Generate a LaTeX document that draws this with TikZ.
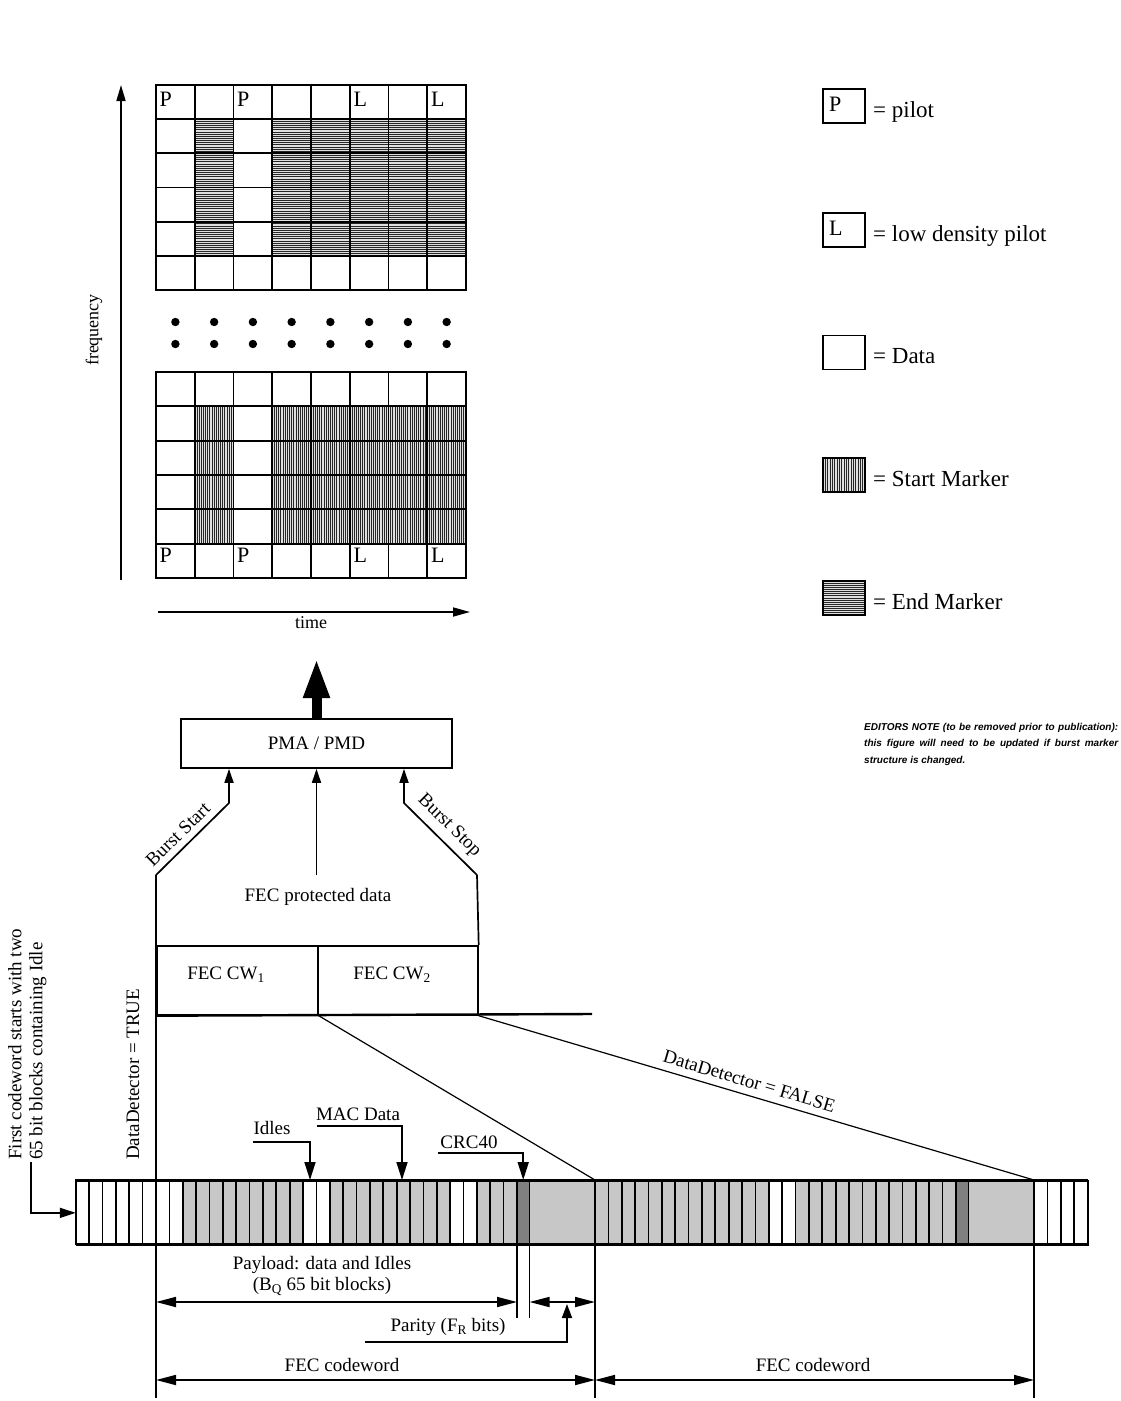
\documentclass[tikz,border=0pt]{standalone}
\usepackage{fontspec}
\setmainfont{Liberation Serif}
\newfontfamily\notefont{Liberation Sans}
\usetikzlibrary{arrows.meta}
\newcommand\startmk[4]{%
  \fill[gray!25] ({#1},{#2}) rectangle ++(#3,#4);
  \foreach \k in {1,...,17} \draw[line width=0.8pt,black!85] ({#1+\k*#3/18},{#2}) -- ++(0,#4);}
\newcommand\stopmk[4]{%
  \fill[gray!25] ({#1},{#2}) rectangle ++(#3,#4);
  \foreach \k in {1,...,15} \draw[line width=0.8pt,black!85] ({#1},{#2+\k*#4/16}) -- ++(#3,0);}
\begin{document}
\begin{tikzpicture}[x=1pt,y=-1pt,
  thickline/.style={line width=1.7pt},
  gline/.style={line width=1.8pt,line cap=rect},
  lab/.style={font=\fontsize{19}{21}\selectfont, inner sep=0pt},
  axlab/.style={font=\fontsize{18}{20}\selectfont, inner sep=0pt},
  cellletter/.style={font=\fontsize{22}{22}\selectfont, inner sep=0pt, anchor=north west},
  leg/.style={font=\fontsize{23}{23}\selectfont, inner sep=0pt, anchor=base west},
  legbox/.style={draw, line width=1.6pt, minimum width=42pt, minimum height=34pt, inner sep=0pt},
  smallarrow/.style={thickline,-{Triangle[length=14pt,width=9pt]}},
  ptr/.style={thickline,-{Triangle[length=18pt,width=11pt]}},
  darr/.style={thickline,{Triangle[length=20pt,width=10pt]}-{Triangle[length=20pt,width=10pt]}},
  hatch/.style={fill=black!22},
  crcfill/.style={fill=black!50},
  scell/.style={thickline}]
\fill[white] (0,0) rectangle (1120,1401);
\useasboundingbox (0,0) rectangle (1120,1401);

% ---------- top grid (end markers) ----------
\foreach \c in {1,3,4,5,6,7} \foreach \r in {1,...,4}
  {\stopmk{156+\c*38.75}{85+\r*34.17}{38.75}{34.17}}
\foreach \i in {0,...,8} \draw[gline] ({156+\i*38.75},85) -- ({156+\i*38.75},290);
\foreach \j in {0,...,6} \draw[gline] (156,{85+\j*34.17}) -- (466,{85+\j*34.17});
\node[cellletter] (tP1) at (159.5,91.5) {P};
\node[cellletter] (tP2) at (237,91.5) {P};
\node[cellletter] (tL1) at (353.5,91.5) {L};
\node[cellletter] (tL2) at (431,91.5) {L};

% ---------- dots ----------
\foreach \c in {0,...,7} {
  \fill ({175.4+\c*38.75},322) circle (4.2);
  \fill ({175.4+\c*38.75},344) circle (4.2);}

% ---------- bottom grid (start markers) ----------
\foreach \c in {1,3,4,5,6,7} \foreach \r in {1,...,4}
  {\startmk{156+\c*38.75}{372+\r*34.33}{38.75}{34.33}}
\foreach \i in {0,...,8} \draw[gline] ({156+\i*38.75},372) -- ({156+\i*38.75},578);
\foreach \j in {0,...,6} \draw[gline] (156,{372+\j*34.33}) -- (466,{372+\j*34.33});
\node[cellletter] (bP1) at (159.5,548) {P};
\node[cellletter] (bP2) at (237,548) {P};
\node[cellletter] (bL1) at (353.5,548) {L};
\node[cellletter] (bL2) at (431,548) {L};

% ---------- axes ----------
\coordinate (fb) at (121,580); \coordinate (ft) at (121,85);
\draw[thickline,-{Triangle[length=16pt,width=9pt]}] (fb) -- (ft);
\node[axlab,rotate=90] (freq) at (94,330) {frequency};
\coordinate (tl) at (158,612); \coordinate (tr) at (470,612);
\draw[thickline,-{Triangle[length=17pt,width=9pt]}] (tl) -- (tr);
\node[axlab,anchor=north] (time) at (311,616) {time};

% ---------- legend ----------
\node[legbox] (lgP) at (844,106) {};
\node[cellletter] (lgPt) at (829,97) {P};
\node[leg] (lgPl) at (873,117) {= pilot};
\node[legbox] (lgL) at (844,230) {};
\node[cellletter] (lgLt) at (829,221) {L};
\node[leg] (lgLl) at (873,241) {= low density pilot};
\node[legbox] (lgD) at (844,352.5) {};
\node[leg] (lgDl) at (873,363) {= Data};
\startmk{823}{458}{42}{34}
\node[legbox] (lgS) at (844,475) {};
\node[leg] (lgSl) at (873,486) {= Start Marker};
\stopmk{823}{581}{42}{34}
\node[legbox] (lgE) at (844,598) {};
\node[leg] (lgEl) at (873,609) {= End Marker};

% ---------- PMA / PMD ----------
\node[draw, thickline, minimum width=271pt, minimum height=49pt, lab] (pma) at (316.5,743.5) {PMA / PMD};
\coordinate (up) at (316.5,658);
\draw[line width=10pt,-{Triangle[length=40pt,width=24pt]}] (pma.north) -- (up);

\coordinate (bsa) at (156,875); \coordinate (bsb) at (229,803);
\draw[smallarrow] (bsa) -- (bsb) -- (bsb |- pma.south);
\path (bsa) -- node[lab, sloped, above=7pt, pos=0.43] (bstart) {Burst Start} (bsb);
\coordinate (bpa) at (477,875); \coordinate (bpb) at (404,803);
\draw[smallarrow] (bpa) -- (bpb) -- (bpb |- pma.south);
\path (bpb) -- node[lab, sloped, above=7pt, pos=0.47] (bstop) {Burst Stop} (bpa);
\coordinate (mid) at (316.5,875);
\draw[smallarrow] (mid) -- (mid |- pma.south);
\node[lab] (fpd) at (318,897) {FEC protected data};

% ---------- FEC codewords box ----------
\node[draw, thickline, minimum width=161pt, minimum height=69pt, inner sep=0pt, anchor=north west] (cw1) at (156,945) {};
\node[draw, thickline, minimum width=160pt, minimum height=69pt, inner sep=0pt, anchor=north west] (cw2) at (317,945) {};
\node[lab] (cw1t) at (226,975) {FEC CW\textsubscript{1}};
\node[lab] (cw2t) at (392,975) {FEC CW\textsubscript{2}};
\coordinate (ext) at (592,1014);
\draw[line width=2.4pt] (cw1.south west) -- (ext);
\coordinate (lvb) at (156,1398);
\draw[thickline] (bsa) -- (lvb);
\draw[thickline] (bpa) -- (cw2.north east);

% ---------- strip ----------
\def\w{13.37}
\fill[hatch] ({156+2*\w},1180) rectangle ({156+11*\w},1244);
\fill[hatch] ({156+13*\w},1180) rectangle ({156+22*\w},1244);
\fill[hatch] ({156+24*\w},1180) rectangle ({156+27*\w},1244);
\fill[crcfill] ({156+27*\w},1180) rectangle (529.5,1244);
\fill[hatch] (529.5,1180) rectangle (595,1244);
\fill[hatch] (595,1180) rectangle ({595+13*\w},1244);
\fill[hatch] ({595+15*\w},1180) rectangle ({595+27*\w},1244);
\fill[crcfill] ({595+27*\w},1180) rectangle (968.5,1244);
\fill[hatch] (968.5,1180) rectangle (1034,1244);
\foreach \k in {0,...,5} \draw[scell] ({75.78+\k*\w},1180) rectangle ++(\w,64);
\foreach \k in {0,...,26} \draw[scell] ({156+\k*\w},1180) rectangle ++(\w,64);
\draw[scell] ({156+27*\w},1180) rectangle (529.5,1244);
\draw[scell] (529.5,1180) rectangle (595,1244);
\foreach \k in {0,...,26} \draw[scell] ({595+\k*\w},1180) rectangle ++(\w,64);
\draw[scell] ({595+27*\w},1180) rectangle (968.5,1244);
\draw[scell] (968.5,1180) rectangle (1034,1244);
\foreach \k in {0,...,3} \draw[scell] ({1034+\k*\w},1180) rectangle ++(\w,64);
\node[draw, thickline, minimum width=1011.7pt, minimum height=64pt, inner sep=0pt, anchor=north west] (strip) at (75.78,1180) {};

% ---------- expansion lines ----------
\coordinate (cw1end) at (595,1180);
\coordinate (cw2end) at (1034,1180);
\draw[line width=1.2pt] (cw1.south east) -- (cw1end);
\draw[line width=1.2pt] (cw2.south east) -- node[lab, sloped, above=7pt, pos=0.48] (ddf) {DataDetector = FALSE} (cw2end);

% ---------- left labels ----------
\node[lab, rotate=90, anchor=north west, align=left] (first) at (8,1160) {First codeword starts with two\\65 bit blocks containing Idle};
\coordinate (fa) at (31,1162);
\draw[thickline,-{Triangle[length=16pt,width=10pt]}] (fa) -- (fa |- strip.west) -- (strip.west);
\node[lab, rotate=90, anchor=west] (ddt) at (133,1160) {DataDetector = TRUE};

% ---------- pointers ----------
\node[lab] (idl) at (272,1128) {Idles};
\coordinate (idA) at (253,1142); \coordinate (idB) at (310,1142);
\draw[ptr] (idA) -- (idB) -- (idB |- strip.north);
\node[lab] (mac) at (358,1114) {MAC Data};
\coordinate (maA) at (317,1126); \coordinate (maB) at (402,1126);
\draw[ptr] (maA) -- (maB) -- (maB |- strip.north);
\node[lab] (crc) at (469,1142) {CRC40};
\coordinate (crA) at (438,1153); \coordinate (crB) at (523.2,1153);
\draw[ptr] (crA) -- (crB) -- (crB |- strip.north);

% ---------- dimensions ----------
\coordinate (v1a) at (517,1244); \coordinate (v1b) at (517,1318);
\coordinate (v2a) at (529.5,1244); \coordinate (v2b) at (529.5,1318);
\coordinate (v3a) at (595,1244); \coordinate (v3b) at (595,1398);
\coordinate (v4a) at (1034,1244); \coordinate (v4b) at (1034,1398);
\draw[thickline] (v1a) -- (v1b);
\draw[thickline] (v2a) -- (v2b);
\draw[thickline] (v3a) -- (v3b);
\draw[thickline] (v4a) -- (v4b);
\draw[darr] (156,1302) -- (517,1302);
\draw[darr] (529.5,1302) -- (595,1302);
\draw[darr] (156,1380) -- (595,1380);
\draw[darr] (595,1380) -- (1034,1380);
\node[lab, align=center] (pay) at (322,1276) {Payload: data and Idles\\(B\textsubscript{Q} 65 bit blocks)};
\coordinate (paA) at (365,1342); \coordinate (paB) at (567,1342); \coordinate (paC) at (567,1304);
\draw[thickline,-{Triangle[length=14pt,width=10pt]}] (paA) -- (paB) -- (paC);
\node[lab] (par) at (448,1327) {Parity (F\textsubscript{R} bits)};
\node[lab] (fc1) at (342,1365) {FEC codeword};
\node[lab] (fc2) at (813,1365) {FEC codeword};

% ---------- editors note ----------
\node[anchor=north west, inner sep=0pt, align=left,
  font=\notefont\bfseries\itshape\fontsize{10}{16.5}\selectfont] (note) at (864,723)
  {\makebox[254pt][s]{EDITORS NOTE (to be removed prior to publication):}\\
   \makebox[254pt][s]{this figure will need to be updated if burst marker}\\
   structure is changed.};
\end{tikzpicture}
\end{document}
